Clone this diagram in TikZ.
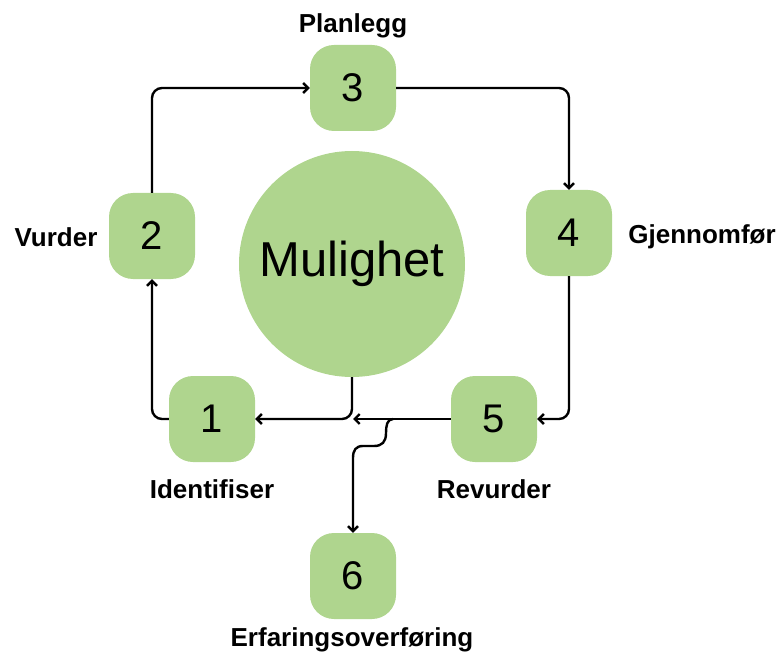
\documentclass[tikz,border=0pt]{standalone}
\usepackage{fontspec}
\setmainfont{Liberation Sans}
\usetikzlibrary{arrows.meta}
\definecolor{leaf}{RGB}{175,213,142}
\tikzset{
  stepbox/.style={fill=leaf, rounded corners=24pt, minimum width=86pt, minimum height=86pt,
    inner sep=0pt, font=\fontsize{40}{40}\selectfont},
  hub/.style={circle, fill=leaf, minimum size=226pt, inner sep=0pt,
    font=\fontsize{49}{49}\selectfont},
  caption/.style={font=\fontsize{26}{26}\selectfont\bfseries, inner sep=0pt},
  tip/.style={-{Straight Barb[length=5pt,width=10pt,line width=2.4pt]}},
  link/.style={draw=black, line width=2.4pt},
  arr/.style={link, tip, rounded corners=10pt}
}
\begin{document}
\begin{tikzpicture}[x=1pt,y=-1pt]
\useasboundingbox (0,0) rectangle (779,655);

% central circle and the six steps
\node[hub] (m) at (352,264) {Mulighet};
\node[stepbox] (n1) at (212,419) {1};
\node[stepbox] (n2) at (152,236) {2};
\node[stepbox] (n3) at (353,88) {3};
\node[stepbox] (n4) at (569,233) {4};
\node[stepbox] (n5) at (494,419) {5};
\node[stepbox] (n6) at (353,576) {6};

% step names
\node[caption] (l1) at (212,489) {Identifiser};
\node[caption] (l2) at (56,237) {Vurder};
\node[caption] (l3) at (353,26) {Planlegg};
\node[caption] (l4) at (702,237) {Gjennomfør};
\node[caption] (l5) at (494,489) {Revurder};
\node[caption] (l6) at (352,640) {Erfaringsoverføring};

% junction points on the lower line
\coordinate (j) at (353,419);
\coordinate (b) at (393,419);

% cycle
\draw[arr] (n2.north) |- (n3.west);
\draw[arr] (n3.east) -| (n4.north);
\draw[arr] (n4.south) |- (n5.east);
\draw[arr] (n5.west) -- (j);
\draw[arr] (m.south) |- (n1.east);
\draw[arr] (n1.west) -| (n2.south);

% branch down to step 6
\draw[link, tip]
  (b) .. controls (387,419) and (386,426) .. (386,433)
  .. controls (386,442) and (382,446) .. (374,446)
  -- (363,446)
  .. controls (356,446) and (353,450) .. (353,458)
  -- (n6.north);
\end{tikzpicture}
\end{document}
